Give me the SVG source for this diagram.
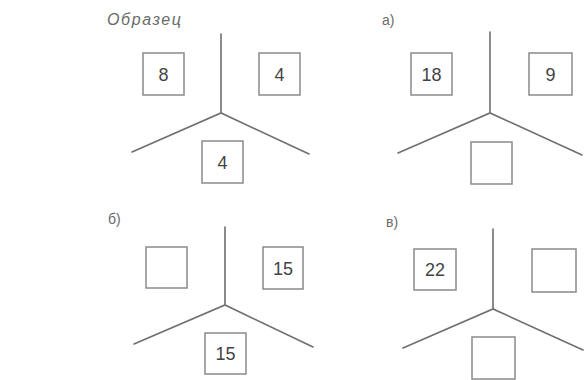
<svg xmlns="http://www.w3.org/2000/svg" width="584" height="380" viewBox="0 0 584 380">
<style>
.bg{fill:#ffffff}
.ln{stroke:#6f6f6f;stroke-width:1.6;fill:none;stroke-linecap:round}
.bx{fill:#ffffff;stroke:#8a8a8a;stroke-width:1.5}
.num{font-family:"Liberation Sans",Arial,sans-serif;font-size:18px;fill:#444444;text-anchor:middle}
.lbl{font-family:"Liberation Sans",Arial,sans-serif;font-size:14px;fill:#6a6a6a}
.it{font-style:italic;font-size:16px}
</style>
<rect class="bg" x="0" y="0" width="584" height="380"/>
<g id="labels">
<text class="lbl it" x="107" y="25" textLength="74" lengthAdjust="spacing">Образец</text>
<text class="lbl" x="382" y="25">а)</text>
<text class="lbl" x="108" y="224">б)</text>
<text class="lbl" x="386" y="227">в)</text>
</g>
<g id="connectors">
<path class="ln" d="M221 34V113M132 152L221 113L309 154"/>
<path class="ln" d="M490 32V113M398 153L490 113L582 155"/>
<path class="ln" d="M225 227V305M134 344L225 305L313 347"/>
<path class="ln" d="M493 229V309M403 348L493 309L583 350"/>
</g>
<g id="sample-left"><rect class="bx" x="143" y="53" width="41" height="42"/><text class="num" x="163.5" y="81">8</text></g>
<g id="sample-right"><rect class="bx" x="259" y="53" width="41" height="42"/><text class="num" x="279.5" y="81">4</text></g>
<g id="sample-bottom"><rect class="bx" x="202" y="141" width="41" height="42"/><text class="num" x="222.5" y="169">4</text></g>
<g id="a-left"><rect class="bx" x="411" y="53" width="41" height="42"/><text class="num" x="431.5" y="81">18</text></g>
<g id="a-right"><rect class="bx" x="529" y="53" width="43" height="42"/><text class="num" x="550.5" y="81">9</text></g>
<g id="a-bottom"><rect class="bx" x="471" y="142" width="41" height="42"/></g>
<g id="b-left"><rect class="bx" x="146" y="247" width="41" height="41"/></g>
<g id="b-right"><rect class="bx" x="263" y="247" width="40" height="42"/><text class="num" x="283" y="275">15</text></g>
<g id="b-bottom"><rect class="bx" x="205" y="333" width="41" height="41"/><text class="num" x="225.5" y="360">15</text></g>
<g id="v-left"><rect class="bx" x="414" y="249" width="42" height="41"/><text class="num" x="435" y="276">22</text></g>
<g id="v-right"><rect class="bx" x="532" y="249" width="44" height="43"/></g>
<g id="v-bottom"><rect class="bx" x="472" y="337" width="43" height="42"/></g>
</svg>
